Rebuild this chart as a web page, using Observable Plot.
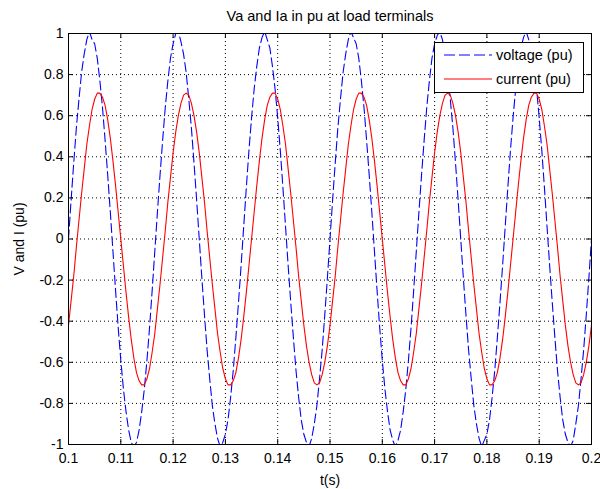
<!DOCTYPE html>
<html><head><meta charset="utf-8">
<script src="https://cdn.jsdelivr.net/npm/d3@7"></script>
<script src="https://cdn.jsdelivr.net/npm/@observablehq/plot@0.6"></script>
<style>
body{margin:0;background:#fff}
svg{font-family:"Liberation Sans",Arial,Helvetica,sans-serif}
</style>
</head><body><div id="chart"></div>
<script>
const title = "Va and Ia in pu at load terminals";
const xLabel = "t(s)";
const yLabel = "V and I (pu)";
const seriesNames = ["voltage (pu)", "current (pu)"];
const seriesColors = ["#0000ff", "#ff0000"];
const xTicks = [0.1,0.11,0.12,0.13,0.14,0.15,0.16,0.17,0.18,0.19,0.2];
const xTickLabels = ["0.1","0.11","0.12","0.13","0.14","0.15","0.16","0.17","0.18","0.19","0.2"];
const yTicks = [-1,-0.8,-0.6,-0.4,-0.2,0,0.2,0.4,0.6,0.8,1];
const yTickLabels = ["-1","-0.8","-0.6","-0.4","-0.2","0","0.2","0.4","0.6","0.8","1"];

const time = [
0.1,0.1005,0.101,0.1015,0.102,0.1025,0.103,0.1035,0.104,0.1045,
0.105,0.1055,0.106,0.1065,0.107,0.1075,0.108,0.1085,0.109,0.1095,
0.11,0.1105,0.111,0.1115,0.112,0.1125,0.113,0.1135,0.114,0.1145,
0.115,0.1155,0.116,0.1165,0.117,0.1175,0.118,0.1185,0.119,0.1195,
0.12,0.1205,0.121,0.1215,0.122,0.1225,0.123,0.1235,0.124,0.1245,
0.125,0.1255,0.126,0.1265,0.127,0.1275,0.128,0.1285,0.129,0.1295,
0.13,0.1305,0.131,0.1315,0.132,0.1325,0.133,0.1335,0.134,0.1345,
0.135,0.1355,0.136,0.1365,0.137,0.1375,0.138,0.1385,0.139,0.1395,
0.14,0.1405,0.141,0.1415,0.142,0.1425,0.143,0.1435,0.144,0.1445,
0.145,0.1455,0.146,0.1465,0.147,0.1475,0.148,0.1485,0.149,0.1495,
0.15,0.1505,0.151,0.1515,0.152,0.1525,0.153,0.1535,0.154,0.1545,
0.155,0.1555,0.156,0.1565,0.157,0.1575,0.158,0.1585,0.159,0.1595,
0.16,0.1605,0.161,0.1615,0.162,0.1625,0.163,0.1635,0.164,0.1645,
0.165,0.1655,0.166,0.1665,0.167,0.1675,0.168,0.1685,0.169,0.1695,
0.17,0.1705,0.171,0.1715,0.172,0.1725,0.173,0.1735,0.174,0.1745,
0.175,0.1755,0.176,0.1765,0.177,0.1775,0.178,0.1785,0.179,0.1795,
0.18,0.1805,0.181,0.1815,0.182,0.1825,0.183,0.1835,0.184,0.1845,
0.185,0.1855,0.186,0.1865,0.187,0.1875,0.188,0.1885,0.189,0.1895,
0.19,0.1905,0.191,0.1915,0.192,0.1925,0.193,0.1935,0.194,0.1945,
0.195,0.1955,0.196,0.1965,0.197,0.1975,0.198,0.1985,0.199,0.1995,
0.2];

const voltage = [
0,0.19,0.37,0.54,0.68,0.81,0.90,0.97,1.01,0.97,
0.95,0.88,0.77,0.64,0.48,0.31,0.13,-0.06,-0.25,-0.43,
-0.59,-0.73,-0.84,-0.93,-0.99,-1.01,-0.99,-0.93,-0.84,-0.73,
-0.59,-0.43,-0.25,-0.06,0.13,0.31,0.48,0.64,0.77,0.88,
0.95,1.0,1.01,0.96,0.90,0.81,0.68,0.54,0.37,0.19,
0,-0.19,-0.37,-0.54,-0.68,-0.81,-0.90,-0.97,-1.01,-0.99,
-0.95,-0.88,-0.77,-0.64,-0.48,-0.31,-0.13,0.06,0.25,0.43,
0.59,0.73,0.84,0.93,0.98,1.01,0.97,0.93,0.84,0.73,
0.59,0.43,0.25,0.06,-0.13,-0.31,-0.48,-0.64,-0.77,-0.88,
-0.95,-0.99,-1.01,-0.97,-0.90,-0.81,-0.68,-0.54,-0.37,-0.19,
0,0.19,0.37,0.54,0.68,0.81,0.90,0.97,1.01,0.98,
0.95,0.88,0.77,0.64,0.48,0.31,0.13,-0.06,-0.25,-0.43,
-0.59,-0.73,-0.84,-0.93,-0.98,-1.01,-0.98,-0.93,-0.84,-0.73,
-0.59,-0.43,-0.25,-0.06,0.13,0.31,0.48,0.64,0.77,0.88,
0.95,0.99,1.01,0.97,0.90,0.81,0.68,0.54,0.37,0.19,
0,-0.19,-0.37,-0.54,-0.68,-0.81,-0.90,-0.97,-1.01,-0.98,
-0.95,-0.88,-0.77,-0.64,-0.48,-0.31,-0.13,0.06,0.25,0.43,
0.59,0.73,0.84,0.93,0.98,1.01,0.97,0.93,0.84,0.73,
0.59,0.43,0.25,0.06,-0.13,-0.31,-0.48,-0.64,-0.77,-0.88,
-0.95,-0.99,-1.01,-0.98,-0.90,-0.81,-0.68,-0.54,-0.37,-0.19,
0];

const current = [
-0.42,-0.30,-0.18,-0.04,0.09,0.22,0.34,0.46,0.55,0.63,
0.68,0.71,0.71,0.69,0.65,0.58,0.49,0.38,0.26,0.13,
0,-0.13,-0.26,-0.38,-0.49,-0.58,-0.65,-0.69,-0.71,-0.71,
-0.68,-0.63,-0.55,-0.46,-0.34,-0.22,-0.09,0.04,0.18,0.30,
0.42,0.52,0.60,0.66,0.70,0.71,0.70,0.66,0.60,0.52,
0.42,0.30,0.18,0.04,-0.09,-0.22,-0.34,-0.46,-0.55,-0.63,
-0.68,-0.71,-0.71,-0.69,-0.65,-0.58,-0.49,-0.38,-0.26,-0.13,
0,0.13,0.26,0.38,0.49,0.58,0.65,0.69,0.71,0.71,
0.68,0.63,0.55,0.46,0.34,0.22,0.09,-0.04,-0.18,-0.30,
-0.42,-0.52,-0.60,-0.66,-0.70,-0.71,-0.70,-0.66,-0.60,-0.52,
-0.42,-0.30,-0.18,-0.04,0.09,0.22,0.34,0.46,0.55,0.63,
0.68,0.71,0.71,0.69,0.65,0.58,0.49,0.38,0.26,0.13,
0,-0.13,-0.26,-0.38,-0.49,-0.58,-0.65,-0.69,-0.71,-0.71,
-0.68,-0.63,-0.55,-0.46,-0.34,-0.22,-0.09,0.04,0.18,0.30,
0.42,0.52,0.60,0.66,0.70,0.71,0.70,0.66,0.60,0.52,
0.42,0.30,0.18,0.04,-0.09,-0.22,-0.34,-0.46,-0.55,-0.63,
-0.68,-0.71,-0.71,-0.69,-0.65,-0.58,-0.49,-0.38,-0.26,-0.13,
0,0.13,0.26,0.38,0.49,0.58,0.65,0.69,0.71,0.71,
0.68,0.63,0.55,0.46,0.34,0.22,0.09,-0.04,-0.18,-0.30,
-0.42,-0.52,-0.60,-0.66,-0.70,-0.71,-0.70,-0.66,-0.60,-0.52,
-0.42];

const W = 600, H = 489;
const mL = 68, mR = 9, mT = 33, mB = 45;
const plotW = W - mL - mR, plotH = H - mT - mB;
const tickLen = 5;

const data = time.map((t, i) => ({t, v: voltage[i], c: current[i]}));
const fmtX = d => xTickLabels[xTicks.findIndex(v => Math.abs(v - d) < 1e-9)];
const fmtY = d => yTickLabels[yTicks.findIndex(v => Math.abs(v - d) < 1e-9)];

const chart = Plot.plot({
  width: W, height: H,
  marginLeft: mL, marginRight: mR, marginTop: mT, marginBottom: mB,
  style: {fontFamily: '"Liberation Sans", Arial, sans-serif', fontSize: "14px", background: "#fff", color: "#000", overflow: "visible"},
  x: {domain: [0.1, 0.2]},
  y: {domain: [-1, 1]},
  marks: [
    Plot.gridX(xTicks, {stroke: "#000", strokeOpacity: 1, strokeWidth: 1, strokeDasharray: "1,3"}),
    Plot.gridY(yTicks, {stroke: "#000", strokeOpacity: 1, strokeWidth: 1, strokeDasharray: "1,3"}),
    Plot.line(data, {x: "t", y: "v", stroke: seriesColors[0], strokeWidth: 1.1, strokeDasharray: "9,4", clip: true}),
    Plot.line(data, {x: "t", y: "c", stroke: seriesColors[1], strokeWidth: 1.1, clip: true}),
    Plot.tickX(xTicks, {x: d => d, stroke: "#000", insetTop: plotH - tickLen}),
    Plot.tickX(xTicks, {x: d => d, stroke: "#000", insetBottom: plotH - tickLen}),
    Plot.tickY(yTicks, {y: d => d, stroke: "#000", insetRight: plotW - tickLen}),
    Plot.tickY(yTicks, {y: d => d, stroke: "#000", insetLeft: plotW - tickLen}),
    Plot.frame({stroke: "#000", strokeWidth: 1}),
    Plot.axisX(xTicks, {tickSize: 0, tickPadding: 9, tickFormat: fmtX, fontSize: 14,
      label: xLabel, labelAnchor: "center", labelArrow: "none", labelOffset: 40}),
    Plot.axisY(yTicks, {tickSize: 0, tickPadding: 5, tickFormat: fmtY, fontSize: 14,
      label: yLabel, labelAnchor: "center", labelArrow: "none", labelOffset: 54}),
    Plot.text([title], {frameAnchor: "top", dy: -13, lineAnchor: "bottom", fontSize: 14.5, text: d => d})
  ]
});

// legend box (top-right inside the frame)
const svg = d3.select(chart);
const lg = svg.append("g").attr("transform", `translate(${W - mR - 8 - 149},${mT + 9})`);
lg.append("rect").attr("x", 0.5).attr("y", 0.5).attr("width", 149).attr("height", 50)
  .attr("fill", "#fff").attr("stroke", "#000").attr("stroke-width", 1);
seriesNames.forEach((name, i) => {
  const yy = 13 + i * 24;
  lg.append("line").attr("x1", 10).attr("x2", 58).attr("y1", yy).attr("y2", yy)
    .attr("stroke", seriesColors[i]).attr("stroke-width", 1.1)
    .attr("stroke-dasharray", i === 0 ? "11,4" : null);
  lg.append("text").attr("x", 62).attr("y", yy).attr("dy", "0.35em")
    .attr("text-anchor", "start")
    .attr("font-size", 14.5).attr("fill", "#000").text(name);
});

document.getElementById("chart").appendChild(chart);
</script>
</body></html>
